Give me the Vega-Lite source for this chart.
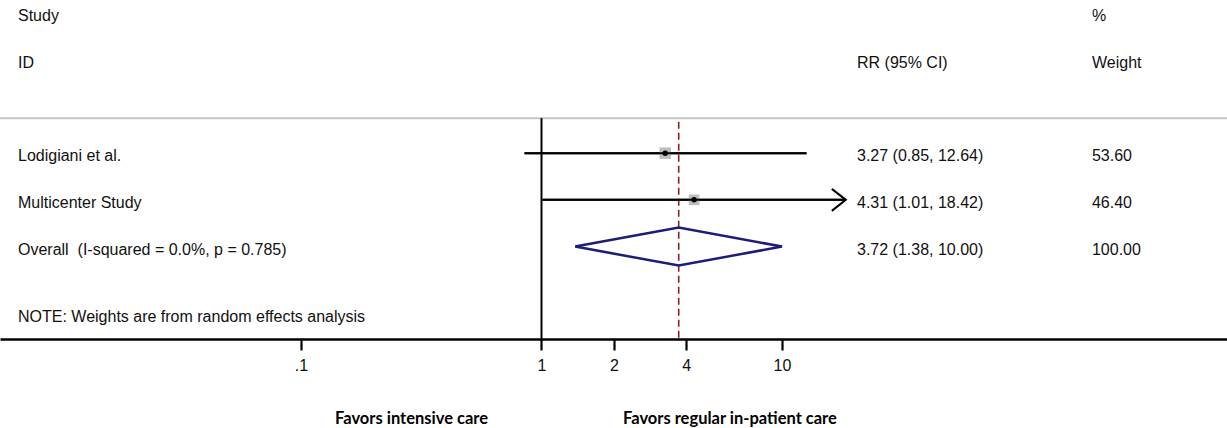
{
  "$schema": "https://vega.github.io/schema/vega-lite/v6.json",
  "width": 1227,
  "height": 339,
  "autosize": {"type": "none"},
  "padding": {"left": 0, "top": 0, "right": 0, "bottom": 89},
  "background": "white",
  "config": {
    "view": {"stroke": null},
    "text": {"font": "Liberation Sans", "fontSize": 16, "color": "#111111", "baseline": "alphabetic", "dy": 8.3, "align": "left"}
  },
  "datasets": {
    "studies": [
      {"study": "Lodigiani et al.", "rr": 3.27, "lo": 0.85, "hi": 12.64, "weight": 53.60, "ci": "3.27 (0.85, 12.64)", "row": 1},
      {"study": "Multicenter Study", "rr": 4.31, "lo": 1.01, "hi": 18.42, "weight": 46.40, "ci": "4.31 (1.01, 18.42)", "row": 2}
    ],
    "overall": [
      {"study": "Overall \u00a0(I-squared = 0.0%, p = 0.785)", "rr": 3.72, "lo": 1.38, "hi": 10.00, "weight": 100.00, "ci": "3.72 (1.38, 10.00)", "row": 3}
    ],
    "diamond": [
      {"x": 1.38, "y": 3, "o": 1},
      {"x": 3.72, "y": 2.593, "o": 2},
      {"x": 10.0, "y": 3, "o": 3},
      {"x": 3.72, "y": 3.407, "o": 4},
      {"x": 1.38, "y": 3, "o": 5}
    ],
    "one": [{}]
  },
  "layer": [
    {
      "data": {"name": "studies"},
      "mark": {"type": "rule", "color": "#000000", "strokeWidth": 2},
      "encoding": {
        "x": {
          "field": "lo", "type": "quantitative",
          "scale": {"type": "log", "domain": [0.005603, 708.6], "nice": false, "zero": false},
          "axis": {
            "title": null, "values": [0.1, 1, 2, 4, 10],
            "labelExpr": "datum.value < 0.5 ? '.1' : format(datum.value, 'd')",
            "grid": false, "ticks": true,
            "domainColor": "#000000", "domainWidth": 2.5,
            "tickColor": "#000000", "tickOpacity": 1, "tickWidth": 2.2, "tickSize": 11,
            "labelFont": "Liberation Sans", "labelFontSize": 16, "labelColor": "#111111",
            "labelPadding": 7, "labelFlush": false, "labelOverlap": false
          }
        },
        "x2": {"field": "hi"},
        "y": {"field": "row", "type": "quantitative", "scale": {"domain": [-2.28, 4.98], "reverse": true, "nice": false, "zero": false}, "axis": null}
      }
    },
    {
      "data": {"name": "one"},
      "mark": {"type": "rule", "color": "#c4c4c4", "strokeWidth": 2},
      "encoding": {
        "x": {"datum": 0.005603, "type": "quantitative"},
        "x2": {"datum": 708.6},
        "y": {"datum": 0.25, "type": "quantitative"}
      }
    },
    {
      "data": {"name": "one"},
      "mark": {"type": "rule", "color": "#000000", "strokeWidth": 2},
      "encoding": {
        "x": {"datum": 1, "type": "quantitative"},
        "y": {"datum": 0.25, "type": "quantitative"},
        "y2": {"datum": 4.98}
      }
    },
    {
      "data": {"name": "overall"},
      "mark": {"type": "rule", "color": "#8b2222", "strokeWidth": 1.6, "strokeDash": [7, 4]},
      "encoding": {
        "x": {"field": "rr", "type": "quantitative"},
        "y": {"datum": 0.33, "type": "quantitative"},
        "y2": {"datum": 4.98}
      }
    },
    {
      "data": {"name": "studies"},
      "mark": {"type": "square", "color": "#bdbdbd", "opacity": 1},
      "encoding": {
        "x": {"field": "rr", "type": "quantitative"},
        "y": {"field": "row", "type": "quantitative"},
        "size": {"field": "weight", "type": "quantitative", "scale": {"domain": [0, 53.6], "range": [0, 132]}, "legend": null}
      }
    },
    {
      "data": {"name": "studies"},
      "mark": {"type": "rule", "color": "#000000", "strokeWidth": 2},
      "encoding": {
        "x": {"field": "lo", "type": "quantitative"},
        "x2": {"field": "hi"},
        "y": {"field": "row", "type": "quantitative"}
      }
    },
    {
      "data": {"name": "studies"},
      "mark": {"type": "circle", "color": "#000000", "size": 30, "opacity": 1},
      "encoding": {
        "x": {"field": "rr", "type": "quantitative"},
        "y": {"field": "row", "type": "quantitative"}
      }
    },
    {
      "data": {"name": "studies"},
      "transform": [{"filter": "datum.hi > 15"}],
      "mark": {"type": "point", "shape": "M -1.27 -1 L 0 0 L -1.27 1", "size": 484, "filled": false, "stroke": "#000000", "strokeWidth": 2, "opacity": 1},
      "encoding": {
        "x": {"field": "hi", "type": "quantitative"},
        "y": {"field": "row", "type": "quantitative"}
      }
    },
    {
      "data": {"name": "diamond"},
      "mark": {"type": "line", "color": "#1c1c7a", "strokeWidth": 2.5, "strokeJoin": "miter"},
      "encoding": {
        "x": {"field": "x", "type": "quantitative"},
        "y": {"field": "y", "type": "quantitative"},
        "order": {"field": "o", "type": "quantitative"}
      }
    },
    {
      "data": {"name": "studies"},
      "mark": {"type": "text"},
      "encoding": {
        "x": {"datum": 0.006656, "type": "quantitative"},
        "y": {"field": "row", "type": "quantitative"},
        "text": {"field": "study"}
      }
    },
    {
      "data": {"name": "studies"},
      "mark": {"type": "text"},
      "encoding": {
        "x": {"datum": 20.51, "type": "quantitative"},
        "y": {"field": "row", "type": "quantitative"},
        "text": {"field": "ci"}
      }
    },
    {
      "data": {"name": "studies"},
      "mark": {"type": "text"},
      "encoding": {
        "x": {"datum": 194.5, "type": "quantitative"},
        "y": {"field": "row", "type": "quantitative"},
        "text": {"field": "weight", "type": "quantitative", "format": ".2f"}
      }
    },
    {
      "data": {"name": "overall"},
      "mark": {"type": "text"},
      "encoding": {
        "x": {"datum": 0.006656, "type": "quantitative"},
        "y": {"field": "row", "type": "quantitative"},
        "text": {"field": "study"}
      }
    },
    {
      "data": {"name": "overall"},
      "mark": {"type": "text"},
      "encoding": {
        "x": {"datum": 20.51, "type": "quantitative"},
        "y": {"field": "row", "type": "quantitative"},
        "text": {"field": "ci"}
      }
    },
    {
      "data": {"name": "overall"},
      "mark": {"type": "text"},
      "encoding": {
        "x": {"datum": 194.5, "type": "quantitative"},
        "y": {"field": "row", "type": "quantitative"},
        "text": {"field": "weight", "type": "quantitative", "format": ".2f"}
      }
    },
    {
      "data": {"name": "one"},
      "mark": {"type": "text", "text": "Study"},
      "encoding": {
        "x": {"datum": 0.006656, "type": "quantitative"},
        "y": {"datum": -2, "type": "quantitative"}
      }
    },
    {
      "data": {"name": "one"},
      "mark": {"type": "text", "text": "ID"},
      "encoding": {
        "x": {"datum": 0.006656, "type": "quantitative"},
        "y": {"datum": -1, "type": "quantitative"}
      }
    },
    {
      "data": {"name": "one"},
      "mark": {"type": "text", "text": "RR (95% CI)"},
      "encoding": {
        "x": {"datum": 20.51, "type": "quantitative"},
        "y": {"datum": -1, "type": "quantitative"}
      }
    },
    {
      "data": {"name": "one"},
      "mark": {"type": "text", "text": "%"},
      "encoding": {
        "x": {"datum": 194.5, "type": "quantitative"},
        "y": {"datum": -2, "type": "quantitative"}
      }
    },
    {
      "data": {"name": "one"},
      "mark": {"type": "text", "text": "Weight"},
      "encoding": {
        "x": {"datum": 194.5, "type": "quantitative"},
        "y": {"datum": -1, "type": "quantitative"}
      }
    },
    {
      "data": {"name": "one"},
      "mark": {"type": "text", "text": "NOTE: Weights are from random effects analysis"},
      "encoding": {
        "x": {"datum": 0.006656, "type": "quantitative"},
        "y": {"datum": 4.43, "type": "quantitative"}
      }
    },
    {
      "data": {"name": "one"},
      "mark": {"type": "text", "text": "Favors intensive care", "font": "Lato", "fontWeight": "bold", "fontSize": 16.5, "color": "#000000"},
      "encoding": {
        "x": {"datum": 0.1385, "type": "quantitative"},
        "y": {"datum": 6.62, "type": "quantitative"}
      }
    },
    {
      "data": {"name": "one"},
      "mark": {"type": "text", "text": "Favors regular in-patient care", "font": "Lato", "fontWeight": "bold", "fontSize": 16.5, "color": "#000000"},
      "encoding": {
        "x": {"datum": 2.182, "type": "quantitative"},
        "y": {"datum": 6.62, "type": "quantitative"}
      }
    }
  ]
}
